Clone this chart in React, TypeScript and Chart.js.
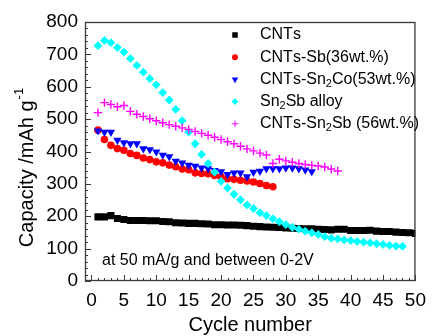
import React, { useEffect, useRef } from 'react';
import { Chart, registerables } from 'chart.js';
import { drawPoint } from 'chart.js/helpers';

Chart.register(...registerables);

// ---------- data ----------
const CNTS = [198, 198, 202, 193, 190, 187, 187, 187, 186, 186, 184, 183, 180, 179, 178, 178, 177, 176, 174, 174, 173, 173, 172, 171, 169, 168, 167, 166, 165, 164, 163, 162, 161, 161, 160, 159, 158, 160, 160, 156, 156, 156, 157, 154, 153, 153, 151, 150, 149, 147];
const CNTS_SB = [466, 437, 419, 409, 404, 394, 388, 380, 375, 368, 365, 358, 353, 346, 344, 334, 332, 331, 326, 322, 316, 314, 311, 309, 306, 301, 295, 291];
const CNTS_SN2CO = [464, 460, 460, 435, 427, 424, 424, 409, 406, 399, 389, 384, 370, 365, 358, 355, 349, 347, 342, 338, 329, 334, 334, 322, 336, 339, 347, 347, 347, 349, 349, 347, 343, 338];
const SN2SB_ALLOY = [727, 743, 736, 721, 707, 687, 666, 645, 625, 606, 582, 559, 530, 495, 460, 424, 391, 363, 336, 308, 287, 268, 251, 235, 224, 211, 202, 192, 183, 174, 166, 160, 154, 149, 144, 137, 132, 130, 127, 125, 122, 120, 118, 115, 113, 110, 108, 107];
const CNTS_SN2SB = [520, 551, 545, 538, 542, 524, 515, 508, 501, 495, 489, 483, 478, 473, 468, 462, 456, 450, 444, 437, 430, 424, 416, 408, 402, 395, 389, 363, 376, 371, 367, 363, 360, 357, 355, 352, 346, 340];

const SERIES_LABELS = ['CNTs', 'CNTs-Sb(36wt.%)', 'CNTs-Sn\u2082Co(53wt.%)', 'Sn\u2082Sb alloy', 'CNTs-Sn\u2082Sb (56wt.%)'];
const SERIES_VALUES = [CNTS, CNTS_SB, CNTS_SN2CO, SN2SB_ALLOY, CNTS_SN2SB];
const SERIES_COLORS = ['#000000', '#ff0000', '#0000ff', '#00ffff', '#ff00ff'];
const SERIES_STYLES = ['rect', 'circle', 'triangle', 'rectRot', 'cross'];
const SERIES_RADIUS = [5, 3.8, 4.8, 4.4, 4.2];
const SERIES_ROTATION = [0, 0, 180, 0, 0];

const X_TICKS = [0, 5, 10, 15, 20, 25, 30, 35, 40, 45, 50];
const Y_TICKS = [0, 100, 200, 300, 400, 500, 600, 700, 800];
const X_MIN = -1;
const X_MAX = 50;
const Y_MIN = 0;
const Y_MAX = 800;
const X_MINOR_STEP = 1;
const Y_MINOR_STEP = 20;

const X_TITLE = 'Cycle number';
const Y_TITLE = 'Capacity /mAh g';
const Y_TITLE_SUP = '-1';
const NOTE = 'at 50 mA/g and between 0-2V';

const FONT = '"Liberation Sans", Arial, Helvetica, sans-serif';
const FRAME = '#3a3a3a';

function drawSubText(ctx: CanvasRenderingContext2D, text: string, x: number, y: number, size: number) {
  let cx = x;
  for (const ch of text) {
    if (ch === '\u2082') {
      ctx.font = `${Math.round(size * 0.68)}px ${FONT}`;
      ctx.fillText('2', cx, y + size * 0.28);
      cx += ctx.measureText('2').width;
    } else {
      ctx.font = `${size}px ${FONT}`;
      ctx.fillText(ch, cx, y);
      cx += ctx.measureText(ch).width;
    }
  }
}

const decorPlugin = {
  id: 'decor',
  afterDatasetsDraw(chart: any) {
    const { ctx, chartArea: a, scales } = chart;
    const xs = scales.x;
    const ys = scales.y;
    ctx.save();
    ctx.strokeStyle = FRAME;
    ctx.lineWidth = 1;
    ctx.beginPath();
    for (let v = Y_MIN; v <= Y_MAX; v += Y_MINOR_STEP) {
      const py = Math.round(ys.getPixelForValue(v)) + 0.5;
      const len = v % 100 === 0 ? 6 : 3;
      ctx.moveTo(a.left, py);
      ctx.lineTo(a.left + len, py);
    }
    for (let v = 0; v <= X_MAX; v += X_MINOR_STEP) {
      const px = Math.round(xs.getPixelForValue(v)) + 0.5;
      const len = v % 5 === 0 ? 6 : 3;
      ctx.moveTo(px, a.bottom);
      ctx.lineTo(px, a.bottom - len);
    }
    ctx.stroke();
    ctx.lineWidth = 1.3;
    ctx.strokeRect(a.left + 0.5, a.top + 0.5, a.right - a.left - 1, a.bottom - a.top - 1);
    ctx.restore();
  },
  afterDraw(chart: any) {
    const { ctx, chartArea: a } = chart;
    ctx.save();
    // legend
    ctx.textBaseline = 'middle';
    ctx.textAlign = 'left';
    SERIES_LABELS.forEach((label, i) => {
      const rowY = a.top + 13 + i * 22.2;
      const mx = a.left + 150;
      ctx.fillStyle = SERIES_COLORS[i];
      ctx.strokeStyle = SERIES_COLORS[i];
      drawPoint(ctx, {
        pointStyle: SERIES_STYLES[i] as any,
        radius: SERIES_RADIUS[i] * 0.78,
        rotation: SERIES_ROTATION[i],
        borderWidth: SERIES_STYLES[i] === 'cross' ? 1.3 : 0,
      } as any, mx, rowY);
      ctx.fillStyle = '#000';
      drawSubText(ctx, label, a.left + 175, rowY, 16);
    });
    // note
    ctx.textBaseline = 'alphabetic';
    ctx.font = `16px ${FONT}`;
    ctx.fillStyle = '#000';
    ctx.fillText(NOTE, a.left + 17, a.bottom - 16);
    // y title
    ctx.translate(27, 168);
    ctx.rotate(-Math.PI / 2);
    ctx.textBaseline = 'middle';
    ctx.font = `20px ${FONT}`;
    const w1 = ctx.measureText(Y_TITLE).width;
    ctx.font = `13px ${FONT}`;
    const w2 = ctx.measureText(Y_TITLE_SUP).width;
    const start = -(w1 + w2) / 2;
    ctx.font = `20px ${FONT}`;
    ctx.fillText(Y_TITLE, start, 0);
    ctx.font = `13px ${FONT}`;
    ctx.fillText(Y_TITLE_SUP, start + w1 + 1, -8);
    ctx.restore();
  },
};

export default function App() {
  const ref = useRef<HTMLCanvasElement>(null);
  useEffect(() => {
    if (!ref.current) return;
    const n = SERIES_VALUES.length;
    const chart = new Chart(ref.current, {
      type: 'scatter',
      data: {
        datasets: SERIES_VALUES.map((vals, i) => ({
          label: SERIES_LABELS[i],
          data: vals.map((v, k) => ({ x: k + 1, y: v })),
          pointStyle: SERIES_STYLES[i] as any,
          pointRadius: SERIES_RADIUS[i],
          pointRotation: SERIES_ROTATION[i],
          backgroundColor: SERIES_COLORS[i],
          borderColor: SERIES_COLORS[i],
          borderWidth: SERIES_STYLES[i] === 'cross' ? 1.4 : 0,
          showLine: false,
          order: n - i,
        })),
      },
      options: {
        responsive: false,
        animation: false,
        events: [],
        layout: { padding: { top: 22, right: 12, left: 0, bottom: 0 } },
        plugins: { legend: { display: false }, tooltip: { enabled: false } },
        scales: {
          x: {
            type: 'linear',
            min: X_MIN,
            max: X_MAX,
            afterBuildTicks: (s: any) => { s.ticks = X_TICKS.map((v) => ({ value: v })); },
            afterFit: (s: any) => { s.height = 55; },
            grid: { display: false, drawTicks: false },
            border: { display: false },
            ticks: { font: { family: FONT, size: 19 }, color: '#000', padding: 8, maxRotation: 0, autoSkip: false },
            title: { display: true, text: X_TITLE, font: { family: FONT, size: 20, lineHeight: 1 }, color: '#000', padding: { top: 0, bottom: 1 } },
          },
          y: {
            type: 'linear',
            min: Y_MIN,
            max: Y_MAX,
            afterBuildTicks: (s: any) => { s.ticks = Y_TICKS.map((v) => ({ value: v })); },
            afterFit: (s: any) => { s.width = 85; },
            grid: { display: false, drawTicks: false },
            border: { display: false },
            ticks: { font: { family: FONT, size: 19 }, color: '#000', padding: 7, autoSkip: false },
          },
        },
      },
      plugins: [decorPlugin],
    });
    return () => chart.destroy();
  }, []);
  return (
    <div style={{ position: 'absolute', left: 0, top: 0, width: 434, height: 336, background: '#fff' }}>
      <canvas ref={ref} width={434} height={336} style={{ display: 'block' }} />
    </div>
  );
}
